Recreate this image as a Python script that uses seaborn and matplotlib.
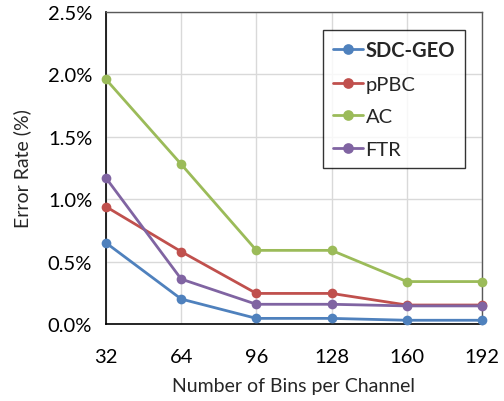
import matplotlib
matplotlib.use("Agg")
import matplotlib.pyplot as plt
import seaborn as sns
import pandas as pd
from matplotlib.ticker import FuncFormatter

bins = [32, 64, 96, 128, 160, 192]
sdc_geo = [0.65, 0.20, 0.045, 0.045, 0.03, 0.03]
ppbc = [0.94, 0.58, 0.245, 0.245, 0.152, 0.152]
ac = [1.96, 1.28, 0.59, 0.59, 0.34, 0.34]
ftr = [1.17, 0.36, 0.158, 0.158, 0.145, 0.145]
series = ["SDC-GEO", "pPBC", "AC", "FTR"]
colors = ["#4F81BD", "#C0504D", "#9BBB59", "#8064A2"]

rows = []
for name, vals in zip(series, [sdc_geo, ppbc, ac, ftr]):
    for b, v in zip(bins, vals):
        rows.append({"bins": b, "rate": v, "method": name})
df = pd.DataFrame(rows)

sns.set_style("white")
plt.rcParams['font.family'] = ['Lato', 'DejaVu Sans']

fig = plt.figure(figsize=(5.04, 4.02), dpi=100)
ax = fig.add_axes([106/504, 1-325/402, (482-106)/504, (325-13)/402])

sns.lineplot(data=df, x="bins", y="rate", hue="method", hue_order=series,
             palette=colors, marker="o", markersize=7, markeredgewidth=0,
             linewidth=2, ax=ax, clip_on=False, zorder=3)

ax.set_xlim(32, 192)
ax.set_ylim(0, 2.5)
ax.set_xticks(bins)
ax.set_yticks([0, 0.5, 1.0, 1.5, 2.0, 2.5])
ax.yaxis.set_major_formatter(FuncFormatter(lambda v, p: f"{v:.1f}%"))
ax.grid(True, color="#D9D9D9", linewidth=1)
ax.set_axisbelow(True)
ax.tick_params(axis="both", labelsize=14.5, length=0, colors="black")
ax.tick_params(axis="x", pad=17)
ax.tick_params(axis="y", pad=10)
ax.set_xlabel("Number of Bins per Channel", fontsize=14, labelpad=9)
ax.set_ylabel("Error Rate (%)", fontsize=14, labelpad=12)
for s in ["left", "bottom"]:
    ax.spines[s].set_color("black")
    ax.spines[s].set_linewidth(1.2)
for s in ["top", "right"]:
    ax.spines[s].set_color("#595959")
    ax.spines[s].set_linewidth(1.0)

leg = ax.legend(loc="upper right", bbox_to_anchor=(0.955, 0.943), fontsize=14.5,
                frameon=True, fancybox=False, edgecolor="black",
                handlelength=1.5, handletextpad=0.1, borderpad=0.5,
                labelspacing=0.78, borderaxespad=0, markerscale=1.1)
leg.get_frame().set_linewidth(1.0)
for t in leg.get_texts():
    if t.get_text() == "SDC-GEO":
        t.set_fontweight("bold")

fig.savefig("out.png", dpi=100)
